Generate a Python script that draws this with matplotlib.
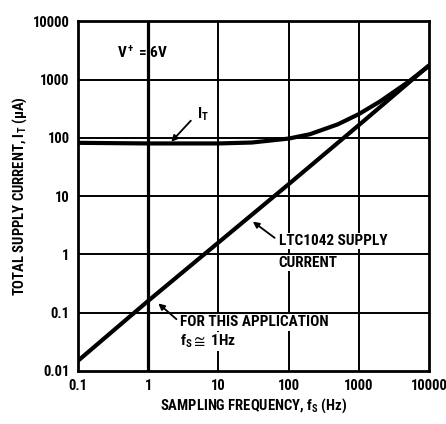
import matplotlib
matplotlib.use("Agg")
from matplotlib import pyplot as plt

# Data
freq_ltc = [0.1, 1, 10, 100, 1000, 10000]
ltc1042_current = [0.015, 0.16, 1.6, 16, 165, 1750]

freq_total = [0.1, 1, 10, 30, 100, 200, 500, 1000, 2000, 5000, 10000]
total_current = [82, 80, 80, 83, 97, 115, 170, 255, 420, 900, 1720]

x_ticks = [0.1, 1, 10, 100, 1000, 10000]
x_labels = ["0.1", "1", "10", "100", "1000", "10000"]
y_ticks = [0.01, 0.1, 1, 10, 100, 1000, 10000]
y_labels = ["0.01", "0.1", "1", "10", "100", "1000", "10000"]

plt.rcParams['font.family'] = ['Roboto Condensed', 'DejaVu Sans']
plt.rcParams['font.weight'] = 'bold'
plt.rcParams['mathtext.fontset'] = 'custom'
plt.rcParams['mathtext.rm'] = 'Roboto Condensed:bold'
plt.rcParams['mathtext.it'] = 'Roboto Condensed:bold'
plt.rcParams['mathtext.bf'] = 'Roboto Condensed:bold'
plt.rcParams['mathtext.default'] = 'rm'

fig = plt.figure(figsize=(4.46, 4.24), dpi=100)
ax = fig.add_axes([0.175, 0.125, 0.787, 0.825])
ax.set_xscale('log')
ax.set_yscale('log')
ax.set_xlim(0.1, 10000)
ax.set_ylim(0.01, 10000)

# grid (the 1 Hz line is drawn heavier, as in the original)
for xv in x_ticks[1:-1]:
    ax.axvline(xv, color='black', lw=1.4 if xv != 1 else 2.3, zorder=1)
for yv in y_ticks[1:-1]:
    ax.axhline(yv, color='black', lw=1.4, zorder=1)

ax.plot(freq_ltc, ltc1042_current, color='black', lw=3.0, zorder=3, solid_capstyle='butt')
ax.plot(freq_total, total_current, color='black', lw=3.0, zorder=3)

ax.set_xticks(x_ticks)
ax.set_xticklabels(x_labels)
ax.set_yticks(y_ticks)
ax.set_yticklabels(y_labels)
ax.minorticks_off()
ax.tick_params(length=0, labelsize=10.5, pad=6)
for lab in ax.get_xticklabels() + ax.get_yticklabels():
    lab.set_fontweight('bold')
for sp in ax.spines.values():
    sp.set_linewidth(2.0)

ax.set_xlabel("SAMPLING FREQUENCY, f$_S$ (Hz)", fontsize=10.5, fontweight='bold', labelpad=2)
ax.set_ylabel("TOTAL SUPPLY CURRENT, I$_T$ ($\\mu$A)", fontsize=10.5, fontweight='bold', labelpad=3)

box = dict(fc='white', ec='none', pad=0.8)
ax.text(0.36, 2900, "V$^+$ = 6V", fontsize=11, fontweight='bold', va='center', ha='left', zorder=5)

ax.text(4.9, 250, "I$_T$", fontsize=11, fontweight='bold', va='center', ha='left', zorder=5)
ax.annotate("", xy=(2.0, 79), xytext=(4.3, 213),
            arrowprops=dict(arrowstyle='-|>', color='black', lw=1.3, mutation_scale=9), zorder=5)

ax.text(72, 1.67, "LTC1042 SUPPLY", fontsize=11, fontweight='bold', va='center', ha='left', bbox=box, zorder=5)
ax.text(72, 0.72, "CURRENT", fontsize=11, fontweight='bold', va='center', ha='left', bbox=box, zorder=5)
ax.annotate("", xy=(28.7, 3.9), xytext=(68, 1.8),
            arrowprops=dict(arrowstyle='-|>', color='black', lw=1.3, mutation_scale=9), zorder=5)

ax.text(2.85, 0.068, "FOR THIS APPLICATION", fontsize=11, fontweight='bold', va='center', ha='left', bbox=box, zorder=5)
ax.text(2.85, 0.032, "f$_S \\cong$ 1Hz", fontsize=11, fontweight='bold', va='center', ha='left', bbox=box, zorder=5)
ax.annotate("", xy=(1.3, 0.155), xytext=(2.7, 0.072),
            arrowprops=dict(arrowstyle='-|>', color='black', lw=1.3, mutation_scale=9), zorder=5)

fig.savefig("out.png", dpi=100)
